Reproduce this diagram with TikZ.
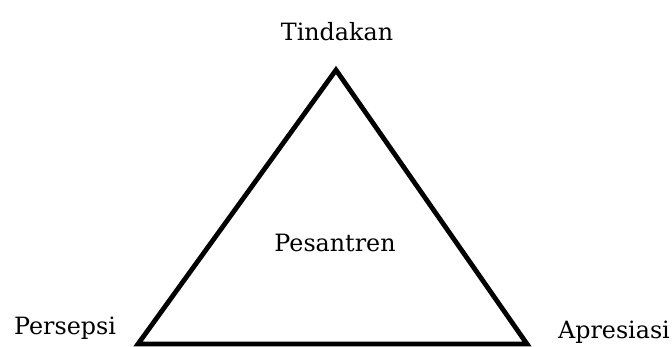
\documentclass[tikz,border=0pt]{standalone}
\usepackage{fontspec}
\setmainfont{DejaVu Serif}
\begin{document}
\begin{tikzpicture}[x=1pt,y=1pt,
  lbl/.style={font=\fontsize{23.8}{27}\selectfont, inner sep=0pt},
  edge/.style={line width=4.8pt, line join=miter}]
\useasboundingbox (0,0) rectangle (672,347);
\coordinate (top) at (336,277);
\coordinate (bl) at (138,3);
\coordinate (br) at (527,3);
\draw[edge] (top) -- (bl) -- (br) -- cycle;
\node[lbl] (t) at (337,315) {Tindakan};
\node[lbl] (c) at (335,104) {Pesantren};
\node[lbl] (p) at (65,19) {Persepsi};
\node[lbl] (a) at (614,15) {Apresiasi};
\end{tikzpicture}
\end{document}
